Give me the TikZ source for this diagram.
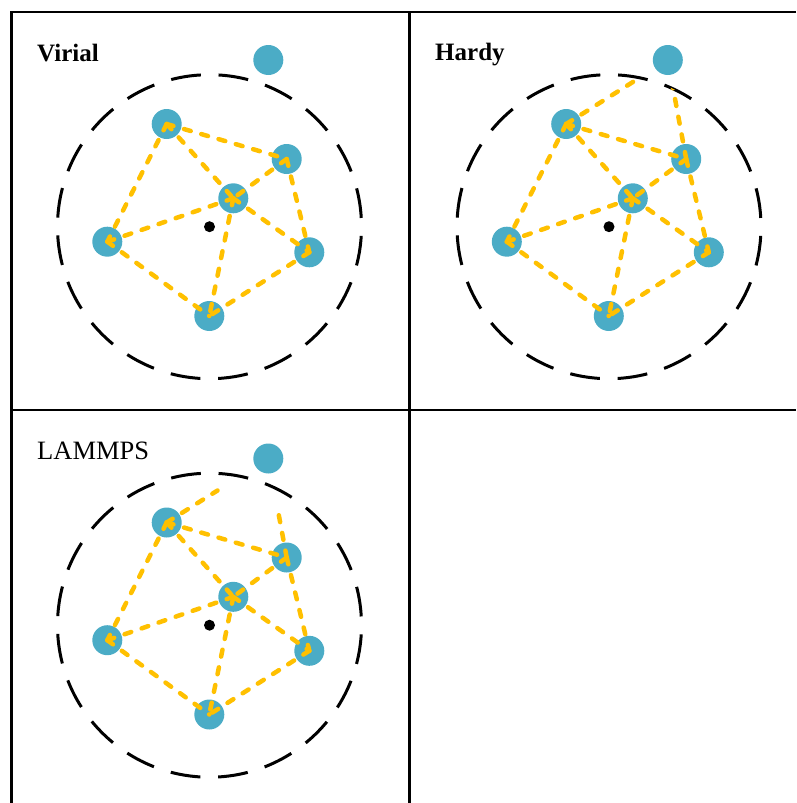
\documentclass[tikz,border=0pt]{standalone}
\usepackage{fontspec}
\setmainfont{Liberation Serif}
\usetikzlibrary{calc}
\definecolor{atomblue}{RGB}{75,172,198}
\definecolor{bondgold}{RGB}{255,192,0}
\tikzset{
  atom/.style={circle, fill=atomblue, minimum size=30pt, inner sep=0pt, outer sep=0pt},
  centre/.style={circle, fill=black, minimum size=11pt, inner sep=0pt, outer sep=0pt},
  bond/.style={draw=bondgold, line width=4.5pt, line cap=round, dash pattern=on 7pt off 11pt},
  cutoff/.style={draw=black, line width=3pt, dash pattern=on 30pt off 17.75pt, dash phase=39pt},
  frame/.style={draw=black, line width=2.5pt},
  lbl/.style={anchor=base west, inner sep=0pt, font=\fontsize{25}{30}\selectfont},
}
% #1 prefix, #2 dx, #3 dy
\newcommand{\atomset}[3]{%
  \begin{scope}[shift={(#2pt,#3pt)}]
    \node[centre] (#1o) at (209.5,-226.7) {};
    \draw[cutoff] (#1o.center) circle[radius=152pt];
    \node[atom] (#1a) at (166.7,-124) {};
    \node[atom] (#1b) at (286.7,-159) {};
    \node[atom] (#1c) at (233.3,-198.3) {};
    \node[atom] (#1d) at (107.3,-241.7) {};
    \node[atom] (#1e) at (309.3,-252.3) {};
    \node[atom] (#1f) at (209.3,-316) {};
    \node[atom] (#1g) at (268.3,-60) {};
  \end{scope}
  \draw[bond] (#1a.center) -- (#1b.center);
  \draw[bond] (#1a.center) -- (#1c.center);
  \draw[bond] (#1a.center) -- (#1d.center);
  \draw[bond] (#1b.center) -- (#1c.center);
  \draw[bond] (#1b.center) -- (#1e.center);
  \draw[bond] (#1c.center) -- (#1d.center);
  \draw[bond] (#1c.center) -- (#1e.center);
  \draw[bond] (#1c.center) -- (#1f.center);
  \draw[bond] (#1d.center) -- (#1f.center);
  \draw[bond] (#1e.center) -- (#1f.center);
}
\begin{document}
\begin{tikzpicture}[x=1pt,y=1pt]
  \useasboundingbox (0,0) rectangle (796,-803);
  % frame
  \coordinate (tr) at (796,-12);
  \coordinate (tl) at (11.5,-12);
  \coordinate (bl) at (11.5,-803);
  \coordinate (tm) at (409.5,-12);
  \coordinate (bm) at (409.5,-803);
  \coordinate (ml) at (11.5,-410);
  \coordinate (mr) at (796,-410);
  \draw[frame] (tr) -- (tl) -- (bl);
  \draw[frame] (tm) -- (bm);
  \draw[frame] (ml) -- (mr);
  % labels
  \node[lbl] (tv) at (37,-61.5) {\bfseries Virial};
  \node[lbl] (th) at (435,-60.5) {\bfseries Hardy};
  \node[lbl, font=\fontsize{26.5}{30}\selectfont] (tlm) at (37,-459) {LAMMPS};
  % panels
  \atomset{v}{0}{0}
  \atomset{h}{399.5}{0}
  \atomset{l}{0}{-398.5}
  % Hardy: bonds to the outside atom, cut at the cutoff circle
  \begin{scope}
    \clip (ho.center) circle[radius=152pt];
    \draw[bond] (ha.center) -- (hg.center);
    \draw[bond] (hb.center) -- (hg.center);
  \end{scope}
  % LAMMPS: half bonds to the outside atom
  \coordinate (lm1) at ($(la.center)!0.5!(lg.center)$);
  \coordinate (lm2) at ($(lb.center)!0.5!(lg.center)$);
  \draw[bond] (la.center) -- (lm1);
  \draw[bond] (lb.center) -- (lm2);
\end{tikzpicture}
\end{document}
